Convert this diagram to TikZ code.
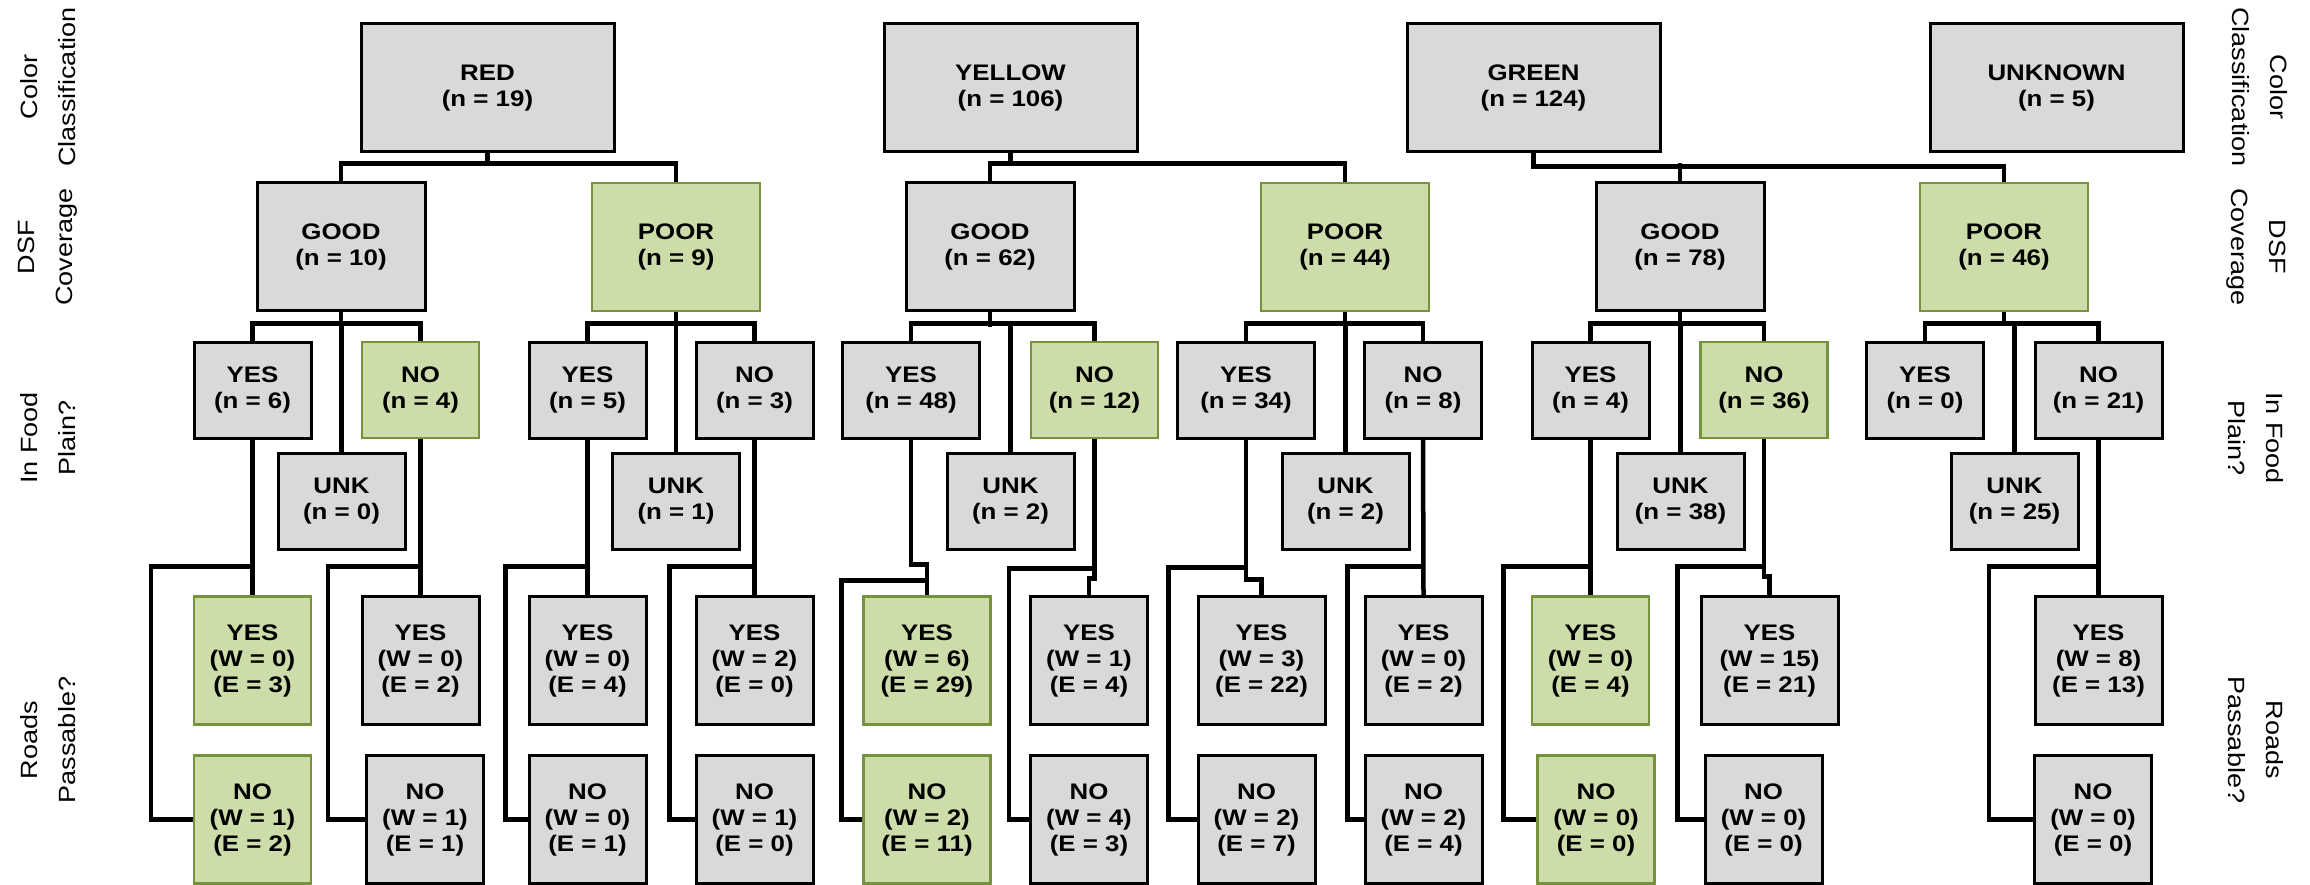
\documentclass[tikz,border=0pt]{standalone}
\usepackage{fontspec}
\setmainfont{Liberation Sans}[FakeStretch=1.15]
\usepackage{tikz}

\definecolor{boxgray}{RGB}{217,217,217}
\definecolor{okfill}{RGB}{205,221,169}
\definecolor{okdraw}{RGB}{118,146,60}

\newcommand{\boxfont}{\fontsize{22.5}{26}\selectfont\bfseries}
\newcommand{\sidefont}{\fontsize{23.5}{38}\selectfont}

\begin{document}
\begin{tikzpicture}
  [
     x = 1pt, y = -1pt,
     box/.style = {draw, line width = 3pt, fill = boxgray, font = \boxfont, align = center, inner sep = 0pt},
     okbox/.style = {box, draw = okdraw, fill = okfill, line width = 2.5pt},
     classbox/.style = {minimum width = 253pt, minimum height = 128pt},
     coverbox/.style = {minimum width = 168pt, minimum height = 128pt},
     plainbox/.style = {minimum width = 117pt, minimum height = 96pt},
     roadbox/.style = {minimum width = 117pt, minimum height = 128pt},
     wide/.style = {minimum width = 127pt},
     wider/.style = {minimum width = 137pt},
     sidelabel/.style = {font = \sidefont, align = center},
     link/.style = {line width = 4.5pt},
  ]
  \useasboundingbox (0,0) rectangle (2310,885);

  % side labels
  \node[sidelabel, rotate = 90] (lclass) at (48,87) {Color\\Classification};
  \node[sidelabel, rotate = 90] (lcover) at (48,247) {DSF\\Coverage};
  \node[sidelabel, rotate = 90] (lplain) at (48,438) {In Food\\Plain?};
  \node[sidelabel, rotate = 90] (lroad) at (48,740) {Roads\\Passable?};
  \node[sidelabel, rotate = -90] (rclass) at (2260,87) {Color\\Classification};
  \node[sidelabel, rotate = -90] (rcover) at (2256,247) {DSF\\Coverage};
  \node[sidelabel, rotate = -90] (rplain) at (2256,438) {In Food\\Plain?};
  \node[sidelabel, rotate = -90] (rroad) at (2256,740) {Roads\\Passable?};

  % colour classification
  \node[box, classbox] (red) at (487.5,88) {RED\\(n = 19)};
  \node[box, classbox] (yellow) at (1010.5,88) {YELLOW\\(n = 106)};
  \node[box, classbox] (green) at (1533.5,88) {GREEN\\(n = 124)};
  \node[box, classbox] (unknown) at (2056.5,88) {UNKNOWN\\(n = 5)};

  % dsf coverage
  \node[box, coverbox] (redgood) at (341,247) {GOOD\\(n = 10)};
  \node[okbox, coverbox] (redpoor) at (676,247) {POOR\\(n = 9)};
  \node[box, coverbox] (yelgood) at (990,247) {GOOD\\(n = 62)};
  \node[okbox, coverbox] (yelpoor) at (1345,247) {POOR\\(n = 44)};
  \node[box, coverbox] (grngood) at (1680,247) {GOOD\\(n = 78)};
  \node[okbox, coverbox] (grnpoor) at (2004,247) {POOR\\(n = 46)};

  % in food plain
  \node[box, plainbox] (rgy) at (252.5,390) {YES\\(n = 6)};
  \node[okbox, plainbox] (rgn) at (420.5,390) {NO\\(n = 4)};
  \node[box, plainbox, wide] (rgu) at (341.5,501) {UNK\\(n = 0)};
  \node[box, plainbox] (rpy) at (587.5,390) {YES\\(n = 5)};
  \node[box, plainbox] (rpn) at (754.5,390) {NO\\(n = 3)};
  \node[box, plainbox, wide] (rpu) at (676,501) {UNK\\(n = 1)};
  \node[box, plainbox, wider] (ygy) at (911,390) {YES\\(n = 48)};
  \node[okbox, plainbox, wide] (ygn) at (1094.5,390) {NO\\(n = 12)};
  \node[box, plainbox, wide] (ygu) at (1010.5,501) {UNK\\(n = 2)};
  \node[box, plainbox, wider] (ypy) at (1246,390) {YES\\(n = 34)};
  \node[box, plainbox] (ypn) at (1423,390) {NO\\(n = 8)};
  \node[box, plainbox, wide] (ypu) at (1345.5,501) {UNK\\(n = 2)};
  \node[box, plainbox] (ggy) at (1590.5,390) {YES\\(n = 4)};
  \node[okbox, plainbox, wide] (ggn) at (1764,390) {NO\\(n = 36)};
  \node[box, plainbox, wide] (ggu) at (1680.5,501) {UNK\\(n = 38)};
  \node[box, plainbox] (gpy) at (1925,390) {YES\\(n = 0)};
  \node[box, plainbox, wide] (gpn) at (2098.5,390) {NO\\(n = 21)};
  \node[box, plainbox, wide] (gpu) at (2014.5,501) {UNK\\(n = 25)};

  % roads passable
  \node[okbox, roadbox] (rgy1) at (252.5,660.5) {YES\\(W = 0)\\(E = 3)};
  \node[okbox, roadbox] (rgy0) at (252.5,819.5) {NO\\(W = 1)\\(E = 2)};
  \node[box, roadbox] (rgn1) at (420.5,660.5) {YES\\(W = 0)\\(E = 2)};
  \node[box, roadbox] (rgn0) at (425,819.5) {NO\\(W = 1)\\(E = 1)};
  \node[box, roadbox] (rpy1) at (587.5,660.5) {YES\\(W = 0)\\(E = 4)};
  \node[box, roadbox] (rpy0) at (587.5,819.5) {NO\\(W = 0)\\(E = 1)};
  \node[box, roadbox] (rpn1) at (754.5,660.5) {YES\\(W = 2)\\(E = 0)};
  \node[box, roadbox] (rpn0) at (754.5,819.5) {NO\\(W = 1)\\(E = 0)};
  \node[okbox, roadbox, wide] (ygy1) at (927,660.5) {YES\\(W = 6)\\(E = 29)};
  \node[okbox, roadbox, wide] (ygy0) at (927,819.5) {NO\\(W = 2)\\(E = 11)};
  \node[box, roadbox] (ygn1) at (1089,660.5) {YES\\(W = 1)\\(E = 4)};
  \node[box, roadbox] (ygn0) at (1089,819.5) {NO\\(W = 4)\\(E = 3)};
  \node[box, roadbox, wide] (ypy1) at (1261.5,660.5) {YES\\(W = 3)\\(E = 22)};
  \node[box, roadbox] (ypy0) at (1256.5,819.5) {NO\\(W = 2)\\(E = 7)};
  \node[box, roadbox] (ypn1) at (1423.5,660.5) {YES\\(W = 0)\\(E = 2)};
  \node[box, roadbox] (ypn0) at (1423.5,819.5) {NO\\(W = 2)\\(E = 4)};
  \node[okbox, roadbox] (ggy1) at (1590.5,660.5) {YES\\(W = 0)\\(E = 4)};
  \node[okbox, roadbox] (ggy0) at (1596,819.5) {NO\\(W = 0)\\(E = 0)};
  \node[box, roadbox, wider] (ggn1) at (1769.5,660.5) {YES\\(W = 15)\\(E = 21)};
  \node[box, roadbox] (ggn0) at (1763.5,819.5) {NO\\(W = 0)\\(E = 0)};
  \node[box, roadbox, wide] (gpn1) at (2098.5,660.5) {YES\\(W = 8)\\(E = 13)};
  \node[box, roadbox] (gpn0) at (2093,819.5) {NO\\(W = 0)\\(E = 0)};

  % colour to coverage
  \draw[link] (red.south) -- ++(0,13);
  \draw[link] (redgood.north) -- ++(0,-18) -| (redpoor.north);
  \draw[link] (yellow.south) -- ++(0,13);
  \draw[link] (yelgood.north) -- ++(0,-18) -| (yelpoor.north);
  \draw[link] (green.south) -- ++(0,13) -| (grnpoor.north);
  \draw[link] (grngood.north) -- ++(0,-18);

  % coverage to food plain
  \draw[link] (redgood.south) -- ++(0,14);
  \draw[link] (rgy.north) -- ++(0,-17) -| (rgn.north);
  \draw[link] (rgu.north) -- ++(0,-128);
  \draw[link] (redpoor.south) -- ++(0,14);
  \draw[link] (rpy.north) -- ++(0,-17) -| (rpn.north);
  \draw[link] (rpu.north) -- ++(0,-128);
  \draw[link] (yelgood.south) -- ++(0,14);
  \draw[link] (ygy.north) -- ++(0,-17) -| (ygn.north);
  \draw[link] (ygu.north) -- ++(0,-128);
  \draw[link] (yelpoor.south) -- ++(0,14);
  \draw[link] (ypy.north) -- ++(0,-17) -| (ypn.north);
  \draw[link] (ypu.north) -- ++(0,-128);
  \draw[link] (grngood.south) -- ++(0,14);
  \draw[link] (ggy.north) -- ++(0,-17) -| (ggn.north);
  \draw[link] (ggu.north) -- ++(0,-128);
  \draw[link] (grnpoor.south) -- ++(0,14);
  \draw[link] (gpy.north) -- ++(0,-17) -| (gpn.north);
  \draw[link] (gpu.north) -- ++(0,-128);

  % food plain to roads
  \draw[link] (rgy.south) -- (rgy1.north);
  \draw[link] (rgy.south) ++(0,127) -| ([xshift=-42pt]rgy0.west) -- (rgy0.west);
  \draw[link] (rgn.south) -- (rgn1.north);
  \draw[link] (rgn.south) ++(0,127) -| ([xshift=-37pt]rgn0.west) -- (rgn0.west);
  \draw[link] (rpy.south) -- (rpy1.north);
  \draw[link] (rpy.south) ++(0,127) -| ([xshift=-22pt]rpy0.west) -- (rpy0.west);
  \draw[link] (rpn.south) -- (rpn1.north);
  \draw[link] (rpn.south) ++(0,127) -| ([xshift=-25pt]rpn0.west) -- (rpn0.west);
  \draw[link] (ygy.south) -- ++(0,125) -| (ygy1.north);
  \draw[link] (ygy1.north) ++(0,-15) -| ([xshift=-21pt]ygy0.west) -- (ygy0.west);
  \draw[link] (ygn.south) -- ++(0,139) -| (ygn1.north);
  \draw[link] (ygn.south) ++(0,129) -| ([xshift=-20pt]ygn0.west) -- (ygn0.west);
  \draw[link] (ypy.south) -- ++(0,140) -| (ypy1.north);
  \draw[link] (ypy.south) ++(0,128) -| ([xshift=-28pt]ypy0.west) -- (ypy0.west);
  \draw[link] (ypn.south) -- (ypn1.north);
  \draw[link] (ypn.south) ++(0,127) -| ([xshift=-16pt]ypn0.west) -- (ypn0.west);
  \draw[link] (ggy.south) -- (ggy1.north);
  \draw[link] (ggy.south) ++(0,127) -| ([xshift=-33pt]ggy0.west) -- (ggy0.west);
  \draw[link] (ggn.south) -- ++(0,137) -| (ggn1.north);
  \draw[link] (ggn.south) ++(0,127) -| ([xshift=-26pt]ggn0.west) -- (ggn0.west);
  \draw[link] (gpn.south) -- (gpn1.north);
  \draw[link] (gpn.south) ++(0,127) -| ([xshift=-44pt]gpn0.west) -- (gpn0.west);
\end{tikzpicture}
\end{document}
